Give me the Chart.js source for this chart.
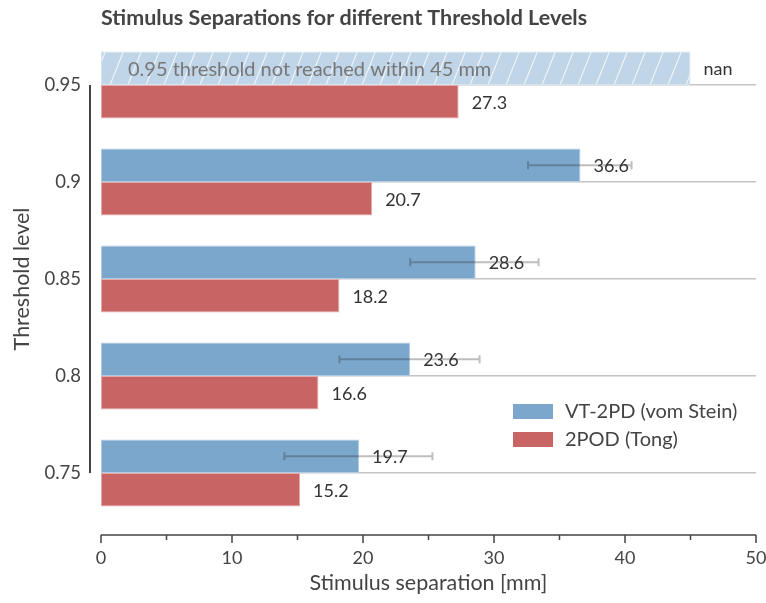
<!DOCTYPE html>
<html>
<head>
<meta charset="utf-8">
<script src="https://cdn.jsdelivr.net/npm/chart.js@4"></script>
<style>
  html, body { margin: 0; padding: 0; background: #fff; }
  #wrap { width: 766px; height: 603px; }
</style>
</head>
<body>
<div id="wrap"><canvas id="chart" width="766" height="603"></canvas></div>
<script>
// values
const thresholds = ['0.95', '0.9', '0.85', '0.8', '0.75'];
const vtMeans = [null, 36.6, 28.6, 23.6, 19.7];      // VT-2PD (vom Stein)
const vtErrLow = [null, 32.6, 23.6, 18.2, 14.0];
const vtErrHigh = [null, 40.5, 33.4, 28.9, 25.3];
const tongMeans = [27.3, 20.7, 18.2, 16.6, 15.2];    // 2POD (Tong)
const notReachedLimit = 45;
const xMinorTicks = [5, 15, 25, 35, 45];
const seriesNames = ['VT-2PD (vom Stein)', '2POD (Tong)'];

const FONT = 'Lato, "Open Sans", sans-serif';
const BLUE = 'rgb(123,167,204)';
const RED = 'rgb(200,100,100)';
const TEXT = '#444';

// hatch for the "not reached" bar
function makeHatch() {
    var c = document.createElement('canvas');
    c.width = 18; c.height = 45;
    var g = c.getContext('2d');
    g.fillStyle = 'rgb(192,213,231)';
    g.fillRect(0, 0, 18, 45);
    g.strokeStyle = 'rgba(255,255,255,0.75)';
    g.lineWidth = 1.2;
    [-18, 0, 18].forEach(function (dx) {
        g.beginPath();
        g.moveTo(dx, 45);
        g.lineTo(dx + 18, 0);
        g.stroke();
    });
    return g.createPattern(c, 'repeat');
}
const hatch = makeHatch();

const vtBars = vtMeans.map(function (v) { return v === null ? notReachedLimit : v; });

const extras = {
    id: 'extras',
    afterDatasetsDraw: function (chart) {
        var ctx = chart.ctx;
        var xs = chart.scales.x, ys = chart.scales.y;
        ctx.save();

        // note inside the hatched bar
        var m0 = chart.getDatasetMeta(0);
        ctx.font = '20px ' + FONT;
        ctx.fillStyle = '#777';
        ctx.textAlign = 'left';
        ctx.textBaseline = 'middle';
        ctx.fillText('0.95 threshold not reached within 45 mm', 128, m0.data[0].y + 1);

        // error bars
        ctx.strokeStyle = 'rgba(40,40,40,0.3)';
        ctx.lineWidth = 2;
        m0.data.forEach(function (el, i) {
            if (vtErrLow[i] === null) return;
            var x1 = xs.getPixelForValue(vtErrLow[i]);
            var x2 = xs.getPixelForValue(vtErrHigh[i]);
            var y = el.y;
            ctx.beginPath();
            ctx.moveTo(x1, y); ctx.lineTo(x2, y);
            ctx.moveTo(x1, y - 4); ctx.lineTo(x1, y + 4);
            ctx.moveTo(x2, y - 4); ctx.lineTo(x2, y + 4);
            ctx.stroke();
        });

        // value labels
        ctx.font = '18px ' + FONT;
        ctx.fillStyle = '#333';
        chart.data.datasets.forEach(function (ds, di) {
            chart.getDatasetMeta(di).data.forEach(function (el, i) {
                var txt = di === 0 ? (vtMeans[i] === null ? 'nan' : vtMeans[i].toFixed(1)) : tongMeans[i].toFixed(1);
                ctx.fillText(txt, el.x + 13, el.y + 1);
            });
        });

        // offset bottom spine with major/minor ticks
        var yAxis = 535;
        ctx.strokeStyle = TEXT;
        ctx.lineWidth = 1.5;
        ctx.beginPath();
        ctx.moveTo(xs.getPixelForValue(0), yAxis);
        ctx.lineTo(xs.getPixelForValue(50), yAxis);
        xs.ticks.forEach(function (t) {
            var px = xs.getPixelForValue(t.value);
            ctx.moveTo(px, yAxis); ctx.lineTo(px, yAxis + 8);
        });
        xMinorTicks.forEach(function (v) {
            var px = xs.getPixelForValue(v);
            ctx.moveTo(px, yAxis); ctx.lineTo(px, yAxis + 5);
        });
        ctx.stroke();

        // trimmed left spine
        ctx.lineWidth = 2;
        ctx.beginPath();
        ctx.moveTo(90, ys.getPixelForValue(0));
        ctx.lineTo(90, ys.getPixelForValue(thresholds.length - 1));
        ctx.stroke();

        // title
        ctx.font = 'bold 21.5px ' + FONT;
        ctx.fillStyle = TEXT;
        ctx.fillText('Stimulus Separations for different Threshold Levels', 101, 18);

        // legend
        ctx.font = '20px ' + FONT;
        [BLUE, RED].forEach(function (col, i) {
            var y = 404 + i * 28;
            ctx.fillStyle = col;
            ctx.fillRect(513, y, 40, 15);
            ctx.fillStyle = TEXT;
            ctx.fillText(seriesNames[i], 565, y + 8);
        });
        ctx.restore();
    }
};

new Chart(document.getElementById('chart'), {
    type: 'bar',
    data: {
        labels: thresholds,
        datasets: [{
            label: seriesNames[0],
            data: vtBars,
            backgroundColor: function (c) { return c.dataIndex === 0 ? hatch : BLUE; },
            borderColor: function (c) { return c.dataIndex === 0 ? 'rgb(214,228,240)' : 'rgb(176,204,228)'; },
            borderWidth: 1,
            borderSkipped: false
        }, {
            label: seriesNames[1],
            data: tongMeans,
            backgroundColor: RED,
            borderColor: 'rgb(228,170,170)',
            borderWidth: 1,
            borderSkipped: false
        }]
    },
    options: {
        indexAxis: 'y',
        responsive: false,
        animation: false,
        categoryPercentage: 0.69,
        barPercentage: 1,
        layout: { autoPadding: false, padding: { left: 0, right: 10, top: 36.5, bottom: 0 } },
        plugins: { legend: { display: false }, tooltip: { enabled: false } },
        scales: {
            x: {
                min: 0, max: 50,
                afterFit: function (s) { s.height = 81.5; s.paddingLeft = 0; s.paddingRight = 0; },
                border: { display: false },
                grid: { display: false, drawTicks: false },
                ticks: { stepSize: 10, padding: 26, color: TEXT, font: { family: FONT, size: 18 } },
                title: { display: true, text: 'Stimulus separation [mm]', color: TEXT,
                         font: { family: FONT, size: 21.5 }, padding: { top: 7, bottom: 7 } }
            },
            y: {
                afterFit: function (s) { s.width = 101; s.paddingTop = 0; s.paddingBottom = 0; },
                border: { display: false },
                grid: { offset: false, color: '#c4c4c4', lineWidth: 1.5, drawTicks: false },
                ticks: { padding: 20, color: TEXT, font: { family: FONT, size: 18.5 } },
                title: { display: true, text: 'Threshold level', color: TEXT,
                         font: { family: FONT, size: 21.5 }, padding: { top: 9, bottom: 9 } }
            }
        }
    },
    plugins: [extras]
});
</script>
</body>
</html>
